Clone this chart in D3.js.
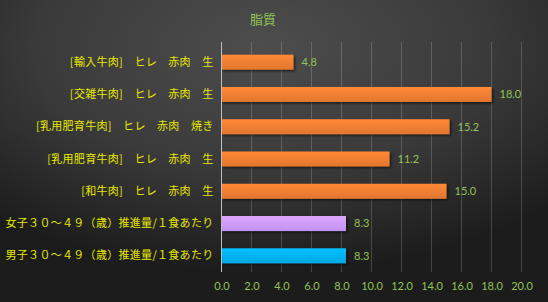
<!DOCTYPE html>
<html>
<head>
<meta charset="utf-8">
<script src="https://cdn.jsdelivr.net/npm/d3@7"></script>
<style>
  html, body { margin: 0; padding: 0; background: #2a2a2a; }
  svg { display: block; }
</style>
</head>
<body>
<div id="chart"></div>
<script>
const categories = [
  "[輸入牛肉]　ヒレ　赤肉　生",
  "[交雑牛肉]　ヒレ　赤肉　生",
  "[乳用肥育牛肉]　ヒレ　赤肉　焼き",
  "[乳用肥育牛肉]　ヒレ　赤肉　生",
  "[和牛肉]　ヒレ　赤肉　生",
  "女子３０～４９（歳）推進量/１食あたり",
  "男子３０～４９（歳）推進量/１食あたり"
];
const values = [4.8, 18.0, 15.2, 11.2, 15.0, 8.3, 8.3];
const barColors = ["#ed7d31", "#ed7d31", "#ed7d31", "#ed7d31", "#ed7d31", "#cc99ff", "#00b0f0"];
const xTicks = [0, 2, 4, 6, 8, 10, 12, 14, 16, 18, 20];

const W = 548, H = 302;
const margin = { top: 46, right: 26, bottom: 30, left: 221.5 };

const svg = d3.select("#chart").append("svg")
  .attr("width", W).attr("height", H);

const defs = svg.append("defs");
const bg = defs.append("radialGradient").attr("id", "bg")
  .attr("cx", "48%").attr("cy", "15%").attr("r", "75%");
bg.append("stop").attr("offset", "0%").attr("stop-color", "#4d4d4d");
bg.append("stop").attr("offset", "55%").attr("stop-color", "#3a3a3a");
bg.append("stop").attr("offset", "100%").attr("stop-color", "#1c1c1c");

// barras con un poco de degradado
barColors.forEach((c, i) => {
  const g = defs.append("linearGradient").attr("id", "bar" + i)
    .attr("x1", 0).attr("y1", 0).attr("x2", 0).attr("y2", 1);
  g.append("stop").attr("offset", "0%").attr("stop-color", d3.color(c).brighter(0.25));
  g.append("stop").attr("offset", "100%").attr("stop-color", d3.color(c).darker(0.15));
});
const sh = defs.append("filter").attr("id", "shadow")
  .attr("x", "-5%").attr("y", "-20%").attr("width", "115%").attr("height", "160%");
sh.append("feDropShadow").attr("dx", 1.5).attr("dy", 1.5).attr("stdDeviation", 1)
  .attr("flood-color", "#000").attr("flood-opacity", 0.6);

svg.append("rect").attr("width", W).attr("height", H).attr("fill", "url(#bg)");

const x = d3.scaleLinear().domain([0, 20]).range([margin.left, margin.left + 300]);
const y = d3.scaleBand().domain(categories)
  .range([margin.top, H - margin.bottom]).paddingInner(0.535).paddingOuter(0.27);

// Title
svg.append("text")
  .attr("x", 263).attr("y", 24)
  .attr("text-anchor", "middle")
  .attr("fill", "#92c353")
  .style("font-family", "'Noto Sans CJK JP'")
  .style("font-size", "13px")
  .text("脂質");

// gridlines
svg.append("g").selectAll("line")
  .data(xTicks.slice(1))
  .enter().append("line")
  .attr("x1", d => x(d)).attr("x2", d => x(d))
  .attr("y1", 42).attr("y2", 272)
  .attr("stroke", "#ffffff").attr("stroke-opacity", 0.18).attr("stroke-width", 1);

// axis
const xAxis = svg.append("g")
  .attr("transform", `translate(0,${286})`)
  .call(d3.axisBottom(x).tickValues(xTicks).tickFormat(d3.format(".1f")).tickSize(0).tickPadding(0));
xAxis.select(".domain").remove();
xAxis.selectAll("text")
  .attr("fill", "#92c353")
  .attr("dy", "0.35em")
  .style("font-family", "Lato, 'Open Sans', sans-serif")
  .style("font-size", "11px");

const yAxis = svg.append("g")
  .attr("transform", `translate(${margin.left},0)`)
  .call(d3.axisLeft(y).tickSize(0).tickPadding(8));
yAxis.select(".domain").remove();
yAxis.selectAll("text")
  .attr("fill", "#e8e800")
  .style("font-family", "'Noto Sans CJK JP'")
  .style("font-size", "11px")
  .style("letter-spacing", "0.3px");

// bars
svg.selectAll(".bar")
  .data(values)
  .enter().append("rect")
  .attr("class", "bar")
  .attr("x", x(0))
  .attr("y", (d, i) => y(categories[i]))
  .attr("width", d => x(d) - x(0))
  .attr("height", y.bandwidth())
  .attr("fill", (d, i) => "url(#bar" + i + ")")
  .attr("filter", "url(#shadow)");

// zero line
svg.append("line")
  .attr("x1", x(0)).attr("x2", x(0)).attr("y1", 42).attr("y2", 272)
  .attr("stroke", "#bfbfbf").attr("stroke-width", 1);

// value labels
svg.selectAll(".val")
  .data(values)
  .enter().append("text")
  .attr("class", "val")
  .attr("x", d => x(d) + 8)
  .attr("y", (d, i) => y(categories[i]) + y.bandwidth() / 2)
  .attr("dy", "0.35em")
  .attr("fill", "#92c353")
  .style("font-family", "Lato, 'Open Sans', sans-serif")
  .style("font-size", "11px")
  .text(d => d.toFixed(1));
</script>
</body>
</html>
